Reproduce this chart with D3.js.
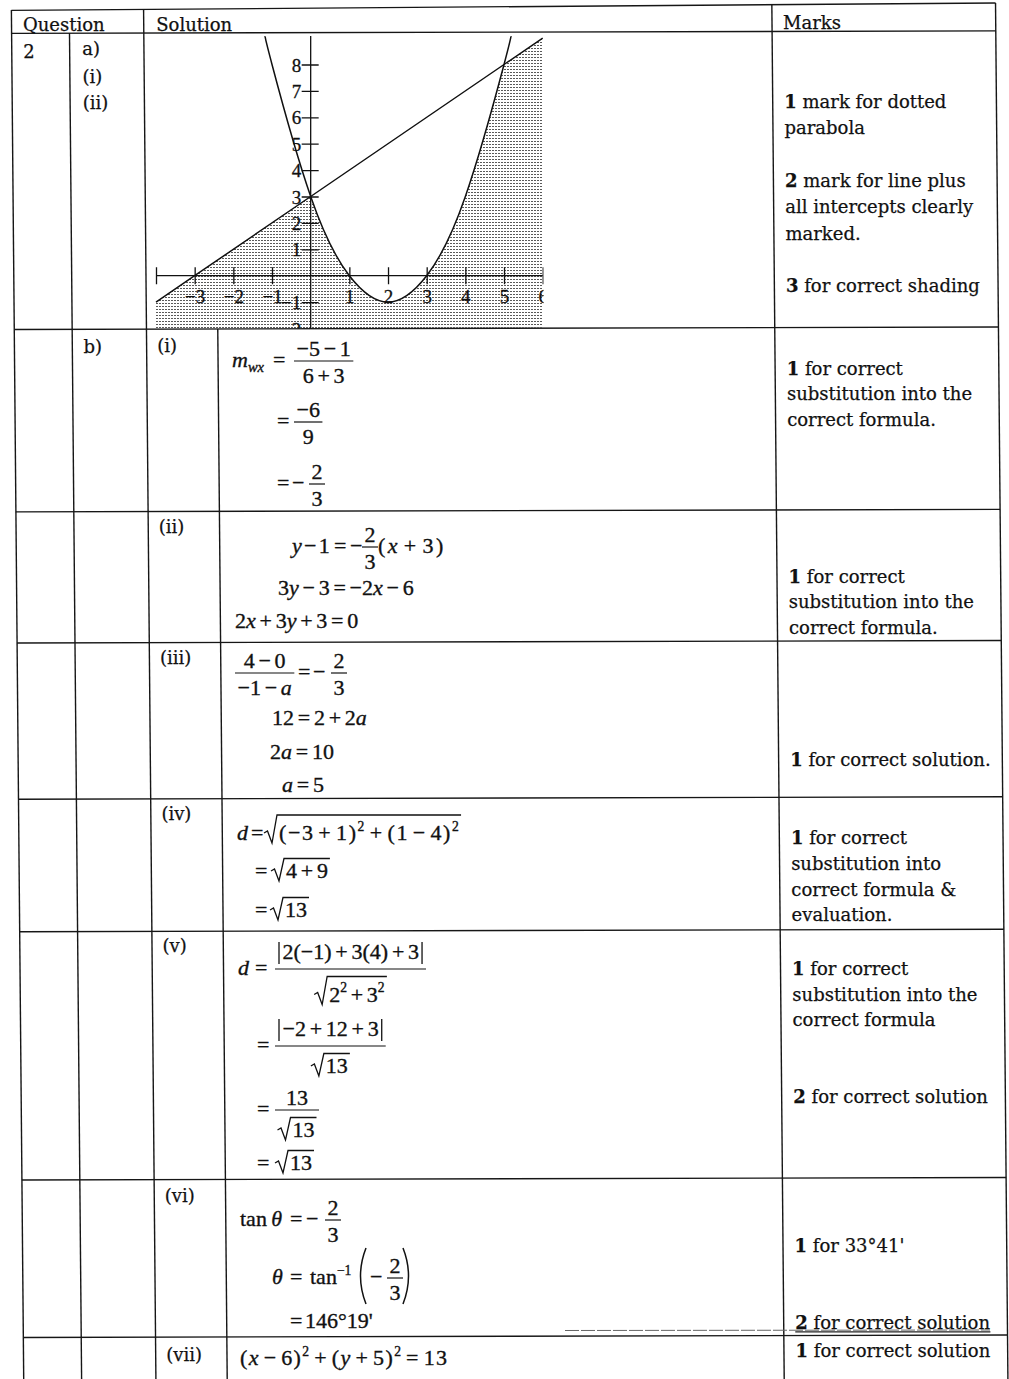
<!DOCTYPE html>
<html>
<head>
<meta charset="utf-8">
<script src="https://cdn.jsdelivr.net/npm/d3@7"></script>
<style>
  html, body { margin: 0; padding: 0; background: #fff; }
  svg { display: block; }
  .prose { font-family: "DejaVu Serif", serif; font-size: 18px; fill: #111; white-space: pre;
           stroke: #111; stroke-width: 0.25px; }
  .math { font-family: "Liberation Serif", "Times New Roman", serif; font-size: 22px; fill: #111;
          stroke: #111; stroke-width: 0.35px; }
  .rule { stroke: #161616; stroke-width: 1.4; fill: none; }
</style>
</head>
<body>
<div id="sheet"></div>
<script>
// graph for part a): line and parabola
const lineX = [-4, -3, 0, 5, 6];
const lineY = [-1, 0, 3, 8, 9];
const parabolaX = [-1.17, -1, 0, 1, 2, 3, 4, 5, 5.17];
const parabolaY = [9.08, 8, 3, 0, -1, 0, 3, 8, 9.08];
const xTicks = [-4, -3, -2, -1, 1, 2, 3, 4, 5, 6];
const yTicks = [-2, -1, 1, 2, 3, 4, 5, 6, 7, 8];

const headers = ["Question", "Solution", "Marks"];
const partA = ["a)", "(i)", "(ii)"];
const partB = ["(i)", "(ii)", "(iii)", "(iv)", "(v)", "(vi)", "(vii)"];

const marksA = ["*1* mark for dotted", "parabola", "", "*2* mark for line plus",
  "all intercepts clearly", "marked.", "", "*3* for correct shading"];
const marksB = [
  ["*1* for correct", "substitution into the", "correct formula."],
  ["*1* for correct", "substitution into the", "correct formula."],
  ["*1* for correct solution."],
  ["*1* for correct", "substitution into", "correct formula &", "evaluation."],
  ["*1* for correct", "substitution into the", "correct formula", "", "", "*2* for correct solution"],
  ["*1* for 33°41'", "", "", "*2* for correct solution"],
  ["*1* for correct solution"],
];

const W = 1009, H = 1379;

// equation setter sizes
const MS = 22;
const PAD = 0.17 * MS;
const AXIS = 6;

// the scan leans a little: vertical rules drift right going down
const K = 0.009;
const cols = { left: 11.3, part: 69.2, sol: 143.5, sub: 214.8, marks: 771.8, right: 995.5 };
const colAt = (c, yy) => cols[c] + K * yy;
const rowLines = [33.4, 329.5, 511.9, 643, 799.3, 931.8, 1180, 1337.5];
const rowAt = (y0, xx) => y0 - 0.0025 * xx;

const svg = d3.select("#sheet").append("svg")
  .attr("width", W).attr("height", H).attr("viewBox", `0 0 ${W} ${H}`);
const defs = svg.append("defs");

drawGrid();
drawGraph();
drawLabels();
drawMarks();
drawWorking();

function drawGrid() {
  const g = svg.append("g");
  const topY = (xx) => 10.5 - 0.0075 * xx;
  g.append("line").attr("class", "rule")
    .attr("x1", colAt("left", 10)).attr("y1", topY(10))
    .attr("x2", colAt("right", 5)).attr("y2", topY(997));
  rowLines.forEach((y0) => {
    const xa = colAt("left", y0), xb = colAt("right", y0);
    g.append("line").attr("class", "rule")
      .attr("x1", xa).attr("y1", rowAt(y0, xa))
      .attr("x2", xb).attr("y2", rowAt(y0, xb));
  });
  const verticals = [["left", 10], ["part", 33], ["sol", 9], ["sub", 329], ["marks", 5], ["right", 3]];
  verticals.forEach(([c, y1]) => {
    g.append("line").attr("class", "rule")
      .attr("x1", colAt(c, y1)).attr("y1", y1)
      .attr("x2", colAt(c, H)).attr("y2", H);
  });
  // faint second rule under "2 for correct solution"
  g.append("line").attr("x1", 565).attr("y1", 1330.5).attr("x2", 990).attr("y2", 1330)
    .attr("stroke", "#666").attr("stroke-width", 1).attr("stroke-dasharray", "14 2");
}

function drawGraph() {
  const x = d3.scaleLinear().domain([-4, 6]).range([156, 542.7]);
  const y = d3.scaleLinear().domain([-2, 9]).range([328.5, 38.1]);
  const lineData = d3.zip(lineX, lineY);
  const parData = d3.zip(parabolaX, parabolaY);

  defs.append("clipPath").attr("id", "graph-clip")
    .append("rect").attr("x", 150).attr("y", 36).attr("width", 393.5).attr("height", 292.5);

  const pat = defs.append("pattern").attr("id", "dots")
    .attr("width", 3).attr("height", 3).attr("patternUnits", "userSpaceOnUse");
  pat.append("rect").attr("width", 2).attr("height", 1.2).attr("fill", "#5a5a5a")
    .attr("shape-rendering", "crispEdges");

  const under = defs.append("clipPath").attr("id", "under-parabola");
  under.append("path").attr("d", d3.area().curve(d3.curveNatural)
    .x((d) => x(d[0])).y0(y(-2.5)).y1((d) => y(d[1]))(parData));
  under.append("rect").attr("x", x(-4.5)).attr("y", y(10))
    .attr("width", x(parabolaX[0]) - x(-4.5)).attr("height", y(-2.5) - y(10));
  under.append("rect").attr("x", x(parabolaX[parabolaX.length - 1])).attr("y", y(10))
    .attr("width", x(6.5) - x(parabolaX[parabolaX.length - 1])).attr("height", y(-2.5) - y(10));

  const chart = svg.append("g").attr("clip-path", "url(#graph-clip)");

  chart.append("path")
    .attr("d", d3.area().x((d) => x(d[0])).y0(y(-2.5)).y1((d) => y(d[1]))(lineData))
    .attr("fill", "url(#dots)")
    .attr("clip-path", "url(#under-parabola)");

  const fmt = (d) => (d < 0 ? "\u2212" + Math.abs(d) : String(d));

  const xAxis = chart.append("g")
    .attr("transform", `translate(0,${y(0)})`)
    .call(d3.axisBottom(x).tickValues(xTicks).tickSizeInner(8).tickSizeOuter(0)
      .tickFormat((d) => (d === -4 ? "" : fmt(d))));
  xAxis.select(".domain").remove();
  xAxis.selectAll(".tick line").attr("y1", -8.5).attr("y2", 8.5)
    .attr("stroke", "#111").attr("stroke-width", 1.3);
  xAxis.selectAll(".tick text").attr("y", 27).attr("dy", null);
  xAxis.append("line").attr("x1", x(-4)).attr("x2", x(6))
    .attr("stroke", "#111").attr("stroke-width", 1.3);

  const yAxis = chart.append("g")
    .attr("transform", `translate(${x(0)},0)`)
    .call(d3.axisLeft(y).tickValues(yTicks).tickSizeInner(9).tickSizeOuter(0).tickFormat(fmt));
  yAxis.select(".domain").remove();
  yAxis.selectAll(".tick line").attr("x1", -9).attr("x2", 8)
    .attr("stroke", "#111").attr("stroke-width", 1.3);
  yAxis.selectAll(".tick text").attr("x", -9.5).attr("dy", "6.5px");
  yAxis.append("line").attr("y1", y(-2.2)).attr("y2", y(9.2))
    .attr("stroke", "#111").attr("stroke-width", 1.3);

  [xAxis, yAxis].forEach((a) => a.attr("font-family", "Liberation Serif, serif")
    .attr("font-size", 19)
    .selectAll(".tick text").attr("fill", "#111")
    .attr("stroke", "#111").attr("stroke-width", 0.3));

  chart.append("path")
    .attr("d", d3.line().x((d) => x(d[0])).y((d) => y(d[1]))(lineData))
    .attr("fill", "none").attr("stroke", "#111").attr("stroke-width", 1.5);
  chart.append("path")
    .attr("d", d3.line().curve(d3.curveNatural).x((d) => x(d[0])).y((d) => y(d[1]))(parData))
    .attr("fill", "none").attr("stroke", "#111").attr("stroke-width", 1.5);
}

function prose(g, xx, yy, s) {
  const t = g.append("text").attr("class", "prose").attr("x", xx).attr("y", yy);
  s.split(/(\*[^*]+\*)/).filter(Boolean).forEach((part) => {
    const bold = part.startsWith("*");
    t.append("tspan").text(bold ? part.slice(1, -1) : part)
      .style("font-weight", bold ? "bold" : null);
  });
  return t;
}

function drawLabels() {
  const g = svg.append("g");
  prose(g, colAt("left", 31) + 11.4, 31, headers[0]);
  prose(g, colAt("sol", 31) + 12.5, 31, headers[1]);
  prose(g, colAt("marks", 29) + 11, 29, headers[2]);

  prose(g, colAt("left", 58) + 11.4, 58, "2");
  const aY = [55, 83, 109];
  partA.forEach((s, i) => prose(g, colAt("part", aY[i]) + 12.5, aY[i], s));
  prose(g, colAt("part", 353) + 11, 353, "b)");

  const bY = [352, 533, 664, 820, 952, 1202, 1361];
  partB.forEach((s, i) => prose(g, colAt("sol", bY[i]) + 10.5, bY[i], s));
}

function drawMarks() {
  const g = svg.append("g");
  marksA.forEach((s, i) => {
    const yy = 108 + i * 26.3;
    if (s) prose(g, colAt("marks", yy) + 11.5, yy, s);
  });
  const starts = [375, 583, 766, 844, 975, 1252, 1357];
  const gaps = [25.3, 25.3, 25.3, 25.8, 25.6, 25.8, 25.3];
  marksB.forEach((lines, p) => {
    lines.forEach((s, i) => {
      const yy = starts[p] + i * gaps[p];
      if (!s) return;
      const t = prose(g, colAt("marks", yy) + 11.5, yy, s);
      if (p === 5 && i === lines.length - 1) {
        const bb = t.node().getBBox();
        g.append("line").attr("x1", bb.x).attr("x2", bb.x + bb.width)
          .attr("y1", yy + 2.5).attr("y2", yy + 2.5)
          .attr("stroke", "#222").attr("stroke-width", 1.1);
      }
    });
  });
}

// ---- a very small equation setter ----
function parseRun(s, lvl = 0) {
  const out = [];
  let i = 0;
  while (i < s.length) {
    if (s.startsWith("tan", i)) { out.push({ t: "tan", it: false, lvl }); i += 3; continue; }
    const c = s[i];
    if (c === "^" || c === "_") {
      let body;
      if (s[i + 1] === "{") {
        const j = s.indexOf("}", i);
        body = s.slice(i + 2, j);
        i = j + 1;
      } else {
        body = s[i + 1];
        i += 2;
      }
      parseRun(body, c === "^" ? 1 : -1).forEach((tk) => out.push(tk));
      continue;
    }
    if (c === " ") { out.push({ space: true }); i++; continue; }
    out.push({ t: c, it: /[a-zθ]/.test(c), lvl, op: "+=\u2212".includes(c) });
    i++;
  }
  return out;
}

function drawRun(g, xx, yy, s, extra = 0) {
  const toks = parseRun(s);
  const text = g.append("text").attr("class", "math").attr("x", xx).attr("y", yy);
  let pend = 0, cur = 0;
  toks.forEach((tk, k) => {
    if (tk.space) { pend += 0.2 * MS; return; }
    const prev = toks[k - 1];
    const binary = tk.op && tk.lvl === 0 && prev && !prev.space && !prev.op && prev.t !== "(";
    const target = tk.lvl === 1 ? -0.42 * MS : tk.lvl === -1 ? 0.22 * MS : 0;
    text.append("tspan").text(tk.t)
      .attr("dx", pend + (binary ? PAD : 0) + (k > 0 ? extra : 0))
      .attr("dy", target - cur)
      .style("font-style", tk.it ? "italic" : "normal")
      .style("font-size", tk.lvl === 1 ? 0.62 * MS + "px" : tk.lvl === -1 ? 0.66 * MS + "px" : null);
    cur = target;
    pend = binary || (tk.op && tk.t === "=" && k > 0) ? PAD : 0;
  });
  const bb = text.node().getBBox();
  const hasSup = toks.some((tk) => tk.lvl === 1);
  return {
    x1: bb.x + bb.width,
    top: hasSup ? -21 : -15.5,
    bottom: /[()y]/.test(s) ? 5 : 0,
  };
}

function drawSpec(g, xx, yy, spec) {
  if (typeof spec === "string") return drawRun(g, xx, yy, spec);
  if (spec.run) return drawRun(g, xx, yy, spec.run, spec.ls);
  if (spec.frac) return drawFrac(g, xx, yy, spec.frac[0], spec.frac[1]);
  if (spec.sqrt) return drawSqrt(g, xx, yy, spec.sqrt);
  if (spec.abs) return drawAbs(g, xx, yy, spec.abs);
  if (spec.paren) return drawParen(g, xx, yy, spec.paren);
}

function drawFrac(g, xx, yy, num, den) {
  const ng = g.append("g"), dg = g.append("g");
  const n = drawSpec(ng, 0, 0, num);
  const d = drawSpec(dg, 0, 0, den);
  const w = Math.max(n.x1, d.x1) + 5;
  const bar = yy - AXIS;
  const nb = bar - 5 - n.bottom;
  const db = bar + 6.5 - d.top;
  ng.attr("transform", `translate(${xx + (w - n.x1) / 2},${nb})`);
  dg.attr("transform", `translate(${xx + (w - d.x1) / 2},${db})`);
  g.append("line").attr("x1", xx).attr("x2", xx + w).attr("y1", bar).attr("y2", bar)
    .attr("stroke", "#111").attr("stroke-width", 1.2);
  return { x1: xx + w, top: nb - yy + n.top, bottom: db - yy + d.bottom };
}

function drawSqrt(g, xx, yy, spec) {
  const r = drawSpec(g, xx + 15, yy, spec);
  const vt = yy + r.top - 4;
  g.append("path")
    .attr("d", `M${xx},${yy - 7}L${xx + 3.5},${yy - 9}L${xx + 8},${yy + 3}L${xx + 13},${vt}L${r.x1 + 2},${vt}`)
    .attr("fill", "none").attr("stroke", "#111").attr("stroke-width", 1.3);
  return { x1: r.x1 + 2, top: r.top - 5, bottom: Math.max(r.bottom, 3) };
}

function drawAbs(g, xx, yy, spec) {
  const r = drawSpec(g, xx + 5, yy, spec);
  [xx + 1.5, r.x1 + 3].forEach((bx) => {
    g.append("line").attr("x1", bx).attr("x2", bx).attr("y1", yy - 17).attr("y2", yy + 5)
      .attr("stroke", "#111").attr("stroke-width", 1.3);
  });
  return { x1: r.x1 + 4.5, top: -17, bottom: 5 };
}

function drawParen(g, xx, yy, side) {
  const t = yy - 36, b = yy + 20, m = (t + b) / 2;
  const d = side === "("
    ? `M${xx + 9},${t}Q${xx - 2},${m} ${xx + 9},${b}`
    : `M${xx},${t}Q${xx + 11},${m} ${xx},${b}`;
  g.append("path").attr("d", d).attr("fill", "none")
    .attr("stroke", "#111").attr("stroke-width", 1.5);
  return { x1: xx + 10, top: -36, bottom: 20 };
}

function drawWorking() {
  const g = svg.append("g");
  const M = "\u2212";
  const lines = [
    // b (i)
    { y: 367, items: [[232, "m_{wx}"], [273, "="], [294, { frac: [`${M}5${M}1`, "6+3"] }]] },
    { y: 428, items: [[277, "="], [294, { frac: [`${M}6`, "9"] }]] },
    { y: 490, items: [[277, "="], [292, M], [309, { frac: ["2", "3"] }]] },
    // (ii)
    { y: 553, items: [[292, { run: `y${M}1`, ls: -1.5 }], [334, "="], [350, M], [362, { frac: ["2", "3"] }],
      [378, { run: "(x+3)", ls: 2.5 }]] },
    { y: 595, items: [[278, `3y${M}3=${M}2x${M}6`]] },
    { y: 628, items: [[235, "2x+3y+3=0"]] },
    // (iii)
    { y: 679, items: [[235, { frac: [`4${M}0`, `${M}1${M}a`] }], [298, "="], [313, M], [331, { frac: ["2", "3"] }]] },
    { y: 725, items: [[272, "12=2+2a"]] },
    { y: 759, items: [[270, "2a=10"]] },
    { y: 792, items: [[282, "a=5"]] },
    // (iv)
    { y: 840, items: [[237, "d"], [251, "="], [264, { sqrt: { run: `(${M}3+1)^2+(1${M}4)^2`, ls: 1.6 } }]] },
    { y: 878, items: [[255, "="], [271, { sqrt: "4+9" }]] },
    { y: 917, items: [[255, "="], [270, { sqrt: "13" }]] },
    // (v)
    { y: 975, items: [[238, "d"], [255, "="], [275, { frac: [{ abs: `2(${M}1)+3(4)+3` }, { sqrt: "2^2+3^2" }] }]] },
    { y: 1052, items: [[257, "="], [275, { frac: [{ abs: `${M}2+12+3` }, { sqrt: "13" }] }]] },
    { y: 1116, items: [[257, "="], [275, { frac: ["13", { sqrt: "13" }] }]] },
    { y: 1170, items: [[257, "="], [275, { sqrt: "13" }]] },
    // (vi)
    { y: 1226, items: [[240, "tan θ"], [290, "="], [306, M], [325, { frac: ["2", "3"] }]] },
    { y: 1284, items: [[272, "θ"], [290, "="], [310, `tan^{${M}1}`], [357, { paren: "(" }],
      [370, M], [387, { frac: ["2", "3"] }], [403, { paren: ")" }]] },
    { y: 1328, items: [[290, "="], [305, "146°19'"]] },
    // (vii)
    { y: 1365, items: [[240, { run: `(x${M}6)^2+(y+5)^2=13`, ls: 1.4 }]] },
  ];
  lines.forEach((ln) => ln.items.forEach(([xx, spec]) => drawSpec(g, xx, ln.y, spec)));
}
</script>
</body>
</html>
